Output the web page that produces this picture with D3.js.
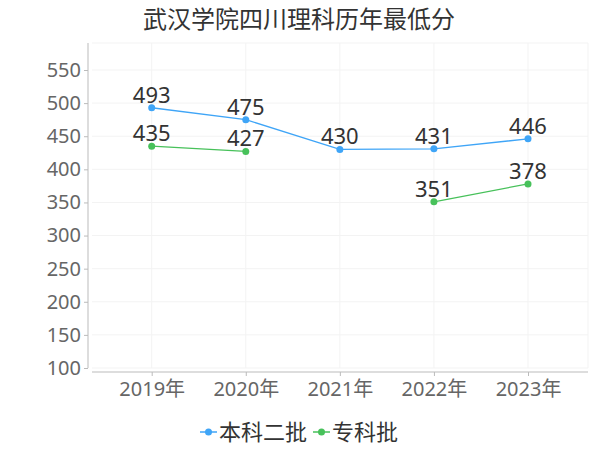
<!DOCTYPE html>
<html><head><meta charset="utf-8">
<script src="https://cdn.jsdelivr.net/npm/d3@7"></script>
<style>body{margin:0;background:#fff}</style>
</head><body>
<svg id="c" width="600" height="450"></svg>
<script>
const title = "武汉学院四川理科历年最低分";
const categories = ["2019年","2020年","2021年","2022年","2023年"];
const seriesNames = ["本科二批","专科批"];
const benke = [493, 475, 430, 431, 446];
const zhuanke = [435, 427, null, 351, 378];
const yTicks = [100,150,200,250,300,350,400,450,500,550];
const colors = ["#3fa5f7", "#47c15a"];

(function(){
const svg = d3.select("#c");
const font = "'Noto Sans', 'Noto Sans CJK SC', sans-serif";
const pLeft = 88, pRight = 588, pTop = 43, pBottom = 368;

const x = d3.scalePoint().domain(categories).range([151.7, 528]);
const y = d3.scaleLinear().domain([100, 100 + (pBottom - pTop) / (298 / 450)]).range([pBottom, pTop]);

// grid
const g = svg.append("g");
g.selectAll(".hg").data(yTicks).enter().append("line")
  .attr("x1", pLeft + 4).attr("x2", pRight).attr("y1", d => y(d)).attr("y2", d => y(d))
  .attr("stroke", "#f3f3f3").attr("stroke-width", 1);
g.append("line").attr("x1", pLeft+4).attr("x2", pRight).attr("y1", pTop).attr("y2", pTop).attr("stroke", "#f3f3f3");
g.selectAll(".vg").data(categories).enter().append("line")
  .attr("x1", d => x(d)).attr("x2", d => x(d)).attr("y1", pTop).attr("y2", pBottom)
  .attr("stroke", "#f3f3f3");
g.append("line").attr("x1", pRight).attr("x2", pRight).attr("y1", pTop).attr("y2", pBottom).attr("stroke", "#f3f3f3");

// y axis
const ya = svg.append("g").attr("transform", `translate(${pLeft},0)`)
  .call(d3.axisLeft(y).tickValues(yTicks).tickSize(4).tickPadding(3));
ya.select(".domain").attr("d", `M0,${pTop}V${pBottom}`).attr("stroke", "#bbb");
ya.selectAll(".tick line").attr("stroke", "#bbb");
ya.selectAll("text").attr("font-family", font).attr("font-size", 20).attr("fill", "#666");

// x axis
const xa = svg.append("g").attr("transform", `translate(0,${pBottom + 4})`)
  .call(d3.axisBottom(x).tickSize(4).tickPadding(6));
xa.select(".domain").attr("d", `M${pLeft+4},0H${pRight}`).attr("stroke", "#bbb");
xa.selectAll(".tick line").attr("stroke", "#bbb");
xa.selectAll("text").attr("font-family", font).attr("font-size", 20).attr("fill", "#666");

// series
const series = [benke, zhuanke];
series.forEach((vals, i) => {
  const pts = vals.map((v, j) => ({c: categories[j], v}));
  const line = d3.line().defined(d => d.v != null).x(d => x(d.c)).y(d => y(d.v));
  svg.append("path").datum(pts).attr("d", line).attr("fill", "none")
    .attr("stroke", colors[i]).attr("stroke-width", 1.3);
  const valid = pts.filter(d => d.v != null);
  svg.selectAll(null).data(valid).enter().append("circle")
    .attr("cx", d => x(d.c)).attr("cy", d => y(d.v)).attr("r", 3.5).attr("fill", colors[i]);
  svg.selectAll(null).data(valid).enter().append("text")
    .attr("x", d => x(d.c)).attr("y", d => y(d.v) - 5).attr("text-anchor", "middle")
    .attr("font-family", font).attr("font-size", 22).attr("fill", "#333").text(d => d.v);
});

// title
svg.append("text").attr("x", 299).attr("y", 28).attr("text-anchor", "middle")
  .attr("font-family", font).attr("font-size", 24).attr("fill", "#333").text(title);

// legend
const lg = svg.append("g");
const legX = [200, 313];
seriesNames.forEach((n, i) => {
  const lx = legX[i], ly = 432;
  lg.append("line").attr("x1", lx).attr("x2", lx + 17).attr("y1", ly).attr("y2", ly)
    .attr("stroke", colors[i]).attr("stroke-width", 1.5);
  lg.append("circle").attr("cx", lx + 8.5).attr("cy", ly).attr("r", 3.5).attr("fill", colors[i]);
  lg.append("text").attr("x", lx + 19).attr("y", ly + 8).attr("font-family", font)
    .attr("font-size", 22).attr("fill", "#333").text(n);
});
})();
</script>
</body></html>
